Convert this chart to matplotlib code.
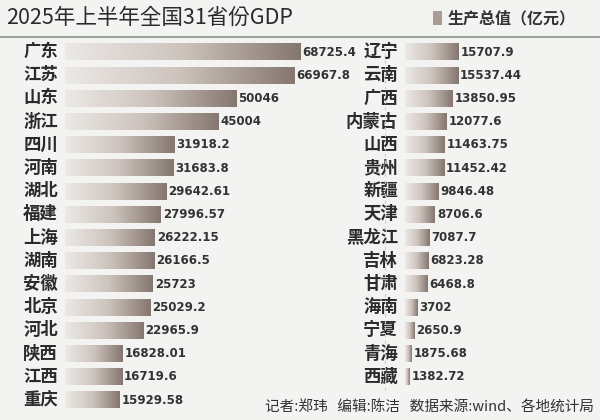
import numpy as np
import matplotlib.pyplot as plt
from matplotlib import font_manager
from matplotlib.patches import Rectangle

cjk = sorted({f.name for f in font_manager.fontManager.ttflist
              if 'CJK' in f.name and 'Sans' in f.name}, key=lambda n: 'SC' not in n)
plt.rcParams['font.family'] = cjk + ['DejaVu Sans']

left_names = ['广东', '江苏', '山东', '浙江', '四川', '河南', '湖北', '福建',
              '上海', '湖南', '安徽', '北京', '河北', '陕西', '江西', '重庆']
left_vals = [68725.4, 66967.8, 50046, 45004, 31918.2, 31683.8, 29642.61, 27996.57,
             26222.15, 26166.5, 25723, 25029.2, 22965.9, 16828.01, 16719.6, 15929.58]
left_labels = ['68725.4', '66967.8', '50046', '45004', '31918.2', '31683.8', '29642.61', '27996.57',
               '26222.15', '26166.5', '25723', '25029.2', '22965.9', '16828.01', '16719.6', '15929.58']

right_names = ['辽宁', '云南', '广西', '内蒙古', '山西', '贵州', '新疆', '天津',
               '黑龙江', '吉林', '甘肃', '海南', '宁夏', '青海', '西藏']
right_vals = [15707.9, 15537.44, 13850.95, 12077.6, 11463.75, 11452.42, 9846.48, 8706.6,
              7087.7, 6823.28, 6468.8, 3702, 2650.9, 1875.68, 1382.72]
right_labels = ['15707.9', '15537.44', '13850.95', '12077.6', '11463.75', '11452.42', '9846.48', '8706.6',
                '7087.7', '6823.28', '6468.8', '3702', '2650.9', '1875.68', '1382.72']

bg = '#f3f3f2'
grad = np.linspace(0, 1, 256).reshape(1, -1)
cmap = plt.matplotlib.colors.LinearSegmentedColormap.from_list('g', ['#ece9e6', '#cdc3bd', '#85776f'])

fig = plt.figure(figsize=(6, 4.2), dpi=100, facecolor=bg)
px = 1 / 0.00342  # data units per pixel
y0, y1 = 8.4 / 420, 379.6 / 420


def panel(x_px, w_px, names, vals, labels):
    ax = fig.add_axes([x_px / 600, y0, w_px / 600, y1 - y0])
    ax.set_facecolor(bg)
    ax.axis('off')
    h = 0.72
    for i, (n, v, lab) in enumerate(zip(names, vals, labels)):
        ax.imshow(grad, cmap=cmap, aspect='auto', extent=(0, v, i + h / 2, i - h / 2), zorder=2)
        ax.text(v + 2 * px, i, lab, va='center', ha='left', fontsize=8.5,
                fontweight='bold', color='#333333', family='DejaVu Sans')
        ax.text(-7 * px, i, n, va='center', ha='right', fontsize=12.5,
                fontweight='bold', color='#2b2b2b', clip_on=False)
    ax.set_xlim(0, w_px * px)
    ax.set_ylim(15.5, -0.5)
    return ax


panel(65, 320, left_names, left_vals, left_labels)
panel(405, 195, right_names, right_vals, right_labels)

fig.text(6 / 600, 1 - 18 / 420, '2025年上半年全国31省份GDP', fontsize=15.5,
         va='center', ha='left', color='#2b2b2b')
fig.text(448 / 600, 1 - 18 / 420, '生产总值（亿元）', fontsize=11.5, fontweight='bold',
         va='center', ha='left', color='#333333')
fig.patches.append(Rectangle((433 / 600, 1 - 25 / 420), 9 / 600, 14 / 420,
                             transform=fig.transFigure, facecolor='#a89c95', edgecolor='none'))
fig.add_artist(plt.Line2D([0, 1], [1 - 37 / 420, 1 - 37 / 420], color='#8a948f', lw=1.2))
fig.add_artist(plt.Line2D([385 / 600, 385 / 600], [30 / 420, 1 - 45 / 420],
                          color='#cccccc', lw=0.8, ls=(0, (3, 3))))
fig.text(594 / 600, 1 - 407 / 420, '记者:郑玮   编辑:陈洁   数据来源:wind、各地统计局',
         fontsize=10.5, ha='right', va='center', color='#333333')

fig.savefig('out.png', dpi=100, facecolor=bg)
